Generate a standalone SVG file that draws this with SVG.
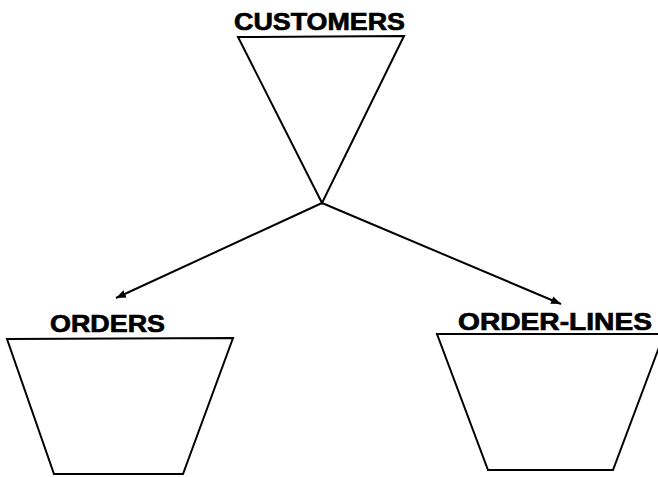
<svg xmlns="http://www.w3.org/2000/svg" width="658" height="477" viewBox="0 0 658 477">
<style>
.shape{fill:none;stroke:#000;stroke-width:2;stroke-linejoin:miter}
.lbl{font-family:"Liberation Sans",Arial,sans-serif;font-weight:bold;font-size:24px;fill:#000;stroke:#000;stroke-width:0.7}
.conn{stroke:#000;stroke-width:2;fill:none}
</style>
<defs>
<marker id="ah" viewBox="0 0 10 10" refX="10" refY="5" markerWidth="5" markerHeight="5" orient="auto" markerUnits="strokeWidth">
<path d="M0,1 L10,5 L0,9 z" fill="#000"/>
</marker>
</defs>
<rect width="658" height="477" fill="#fff"/>
<g id="customers">
<polygon class="shape" points="238,37 404,36 322,203"/>
<text class="lbl" x="234" y="30" textLength="171" lengthAdjust="spacingAndGlyphs">CUSTOMERS</text>
</g>
<g id="orders">
<polygon class="shape" points="7,339 233,338 183,474 54,474"/>
<text class="lbl" x="50" y="332" textLength="115" lengthAdjust="spacingAndGlyphs">ORDERS</text>
</g>
<g id="order-lines">
<polygon class="shape" points="437,334 664,334 613,470 488,470"/>
<text class="lbl" x="458" y="330" textLength="194" lengthAdjust="spacingAndGlyphs">ORDER-LINES</text>
</g>
<g id="connectors">
<line class="conn" x1="322" y1="203" x2="116" y2="298" marker-end="url(#ah)"/>
<line class="conn" x1="322" y1="203" x2="561" y2="304" marker-end="url(#ah)"/>
</g>
</svg>
